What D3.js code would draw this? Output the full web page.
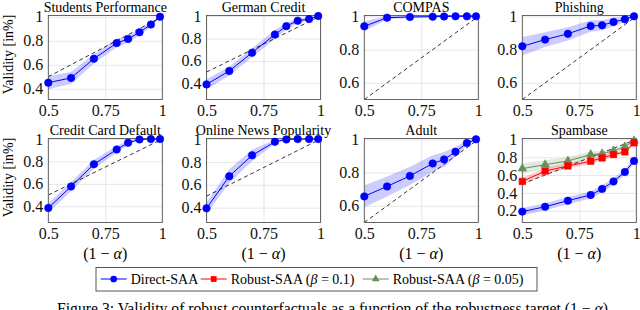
<!DOCTYPE html>
<html>
<head>
<meta charset="utf-8">
<script src="https://cdn.jsdelivr.net/npm/d3@7"></script>
<style>
  body { margin: 0; background: #fff; }
  svg { display: block; font-family: "Liberation Serif", "DejaVu Serif", serif; }
</style>
</head>
<body>
<script>
// robustness target (1 - alpha)
const alphaLevels = [0.5, 0.6, 0.7, 0.8, 0.85, 0.9, 0.95, 0.99];
const xTicks = [0.5, 0.75, 1];

const panelTitles = ["Students Performance", "German Credit", "COMPAS", "Phishing",
  "Credit Card Default", "Online News Popularity", "Adult", "Spambase"];

// Direct-SAA mean validity and half-width of the shaded band
const students = [0.45, 0.49, 0.65, 0.78, 0.815, 0.87, 0.935, 1.0];
const studentsBand = [0.055, 0.05, 0.04, 0.035, 0.03, 0.025, 0.02, 0.005];
const german = [0.39, 0.51, 0.673, 0.835, 0.91, 0.958, 0.973, 1.0];
const germanBand = [0.045, 0.04, 0.04, 0.04, 0.03, 0.02, 0.015, 0.005];
const compas = [0.94, 0.992, 0.996, 0.998, 0.999, 1.0, 1.0, 1.0];
const compasBand = [0.03, 0.01, 0.006, 0.004, 0.003, 0.002, 0.002, 0.001];
const phishing = [0.82, 0.86, 0.895, 0.942, 0.946, 0.966, 0.982, 1.0];
const phishingBand = [0.055, 0.045, 0.04, 0.035, 0.03, 0.025, 0.015, 0.005];
const creditCard = [0.385, 0.577, 0.775, 0.907, 0.967, 0.997, 1.0, 1.0];
const creditCardBand = [0.045, 0.04, 0.04, 0.03, 0.02, 0.01, 0.005, 0.003];
const onlineNews = [0.394, 0.675, 0.858, 0.976, 0.997, 1.0, 1.0, 1.0];
const onlineNewsBand = [0.05, 0.06, 0.05, 0.015, 0.005, 0.003, 0.002, 0.001];
const adult = [0.657, 0.717, 0.78, 0.855, 0.879, 0.925, 0.978, 1.0];
const adultBand = [0.065, 0.06, 0.055, 0.05, 0.045, 0.03, 0.015, 0.005];
const spambase = [0.19, 0.245, 0.313, 0.377, 0.445, 0.528, 0.634, 0.758];
const spambaseBand = [0.04, 0.04, 0.04, 0.04, 0.04, 0.035, 0.03, 0.03];

// Robust-SAA, only reported for Spambase
const spambaseRobust10 = [0.528, 0.645, 0.702, 0.755, 0.792, 0.83, 0.86, 0.962];
const spambaseRobust10Band = [0.04, 0.035, 0.03, 0.03, 0.03, 0.025, 0.025, 0.02];
const spambaseRobust05 = [0.672, 0.717, 0.758, 0.83, 0.84, 0.872, 0.917, 0.985];
const spambaseRobust05Band = [0.06, 0.05, 0.045, 0.035, 0.03, 0.025, 0.02, 0.01];

const yTicksWide = [0.4, 0.6, 0.8, 1];
const yTicksHigh = [0.6, 0.8, 1];
const yTicksSpam = [0.2, 0.4, 0.6, 0.8, 1];

const seriesStyle = {
  direct: { name: "Direct-SAA", color: "#0000ff", symbol: d3.symbolCircle, size: 44 },
  robust10: { name: "Robust-SAA", beta: "0.1", color: "#ff0000", symbol: d3.symbolSquare, size: 42 },
  robust05: { name: "Robust-SAA", beta: "0.05", color: "#6b8f5b", symbol: d3.symbolTriangle, size: 32 }
};

const panels = [
  { title: panelTitles[0], yDomain: [0.31, 1.01], yTicks: yTicksWide, series: [["direct", students, studentsBand]] },
  { title: panelTitles[1], yDomain: [0.255, 1.005], yTicks: yTicksWide, series: [["direct", german, germanBand]] },
  { title: panelTitles[2], yDomain: [0.5, 1.005], yTicks: yTicksHigh, series: [["direct", compas, compasBand]] },
  { title: panelTitles[3], yDomain: [0.5, 1.005], yTicks: yTicksHigh, series: [["direct", phishing, phishingBand]] },
  { title: panelTitles[4], yDomain: [0.255, 1.005], yTicks: yTicksWide, series: [["direct", creditCard, creditCardBand]] },
  { title: panelTitles[5], yDomain: [0.27, 1.005], yTicks: yTicksWide, series: [["direct", onlineNews, onlineNewsBand]] },
  { title: panelTitles[6], yDomain: [0.5, 1.005], yTicks: yTicksHigh, series: [["direct", adult, adultBand]] },
  { title: panelTitles[7], yDomain: [0.068, 1.01], yTicks: yTicksSpam, series: [
      ["robust05", spambaseRobust05, spambaseRobust05Band],
      ["robust10", spambaseRobust10, spambaseRobust10Band],
      ["direct", spambase, spambaseBand]] }
];

const colLeft = [48.3, 206.5, 364.3, 522.3];
const plotW = 114;
const rowTop = [15.5, 138.5];
const plotH = 84;

const svg = d3.select("body").append("svg")
  .attr("width", 640)
  .attr("height", 310);

const fmt = d => String(d);

panels.forEach((p, i) => {
  const col = i % 4, row = Math.floor(i / 4);
  const left = colLeft[col], top = rowTop[row];

  const x = d3.scaleLinear().domain([0.5, 1]).range([left, left + plotW]);
  const y = d3.scaleLinear().domain(p.yDomain).range([top + plotH, top]);

  const g = svg.append("g");

  // grid + tick labels
  const yAxis = g.append("g")
    .attr("transform", `translate(${left},0)`)
    .call(d3.axisLeft(y).tickValues(p.yTicks).tickFormat(fmt).tickSize(-plotW).tickPadding(5));
  const xAxis = g.append("g")
    .attr("transform", `translate(0,${top + plotH})`)
    .call(d3.axisBottom(x).tickValues(xTicks).tickFormat(fmt).tickSize(-plotH).tickPadding(5));
  [yAxis, xAxis].forEach(a => {
    a.select(".domain").remove();
    a.selectAll("line").attr("stroke", "#dcdcdc").attr("stroke-width", 0.7);
    a.selectAll("text").attr("fill", "#111").style("font-size", "16px")
      .style("font-family", "'Liberation Serif', serif");
  });

  const clipId = "clip" + i;
  svg.append("clipPath").attr("id", clipId)
    .append("rect").attr("x", left).attr("y", top).attr("width", plotW).attr("height", plotH);

  const inner = g.append("g").attr("clip-path", `url(#${clipId})`);

  p.series.forEach(([key, mean, band]) => {
    const st = seriesStyle[key];
    const pts = alphaLevels.map((a, k) => ({ a, m: mean[k], s: band[k] }));
    inner.append("path")
      .datum(pts)
      .attr("fill", st.color)
      .attr("fill-opacity", 0.2)
      .attr("d", d3.area().x(d => x(d.a)).y0(d => y(d.m - d.s)).y1(d => y(d.m + d.s)));
  });

  // reference diagonal
  inner.append("line")
    .attr("x1", x(0.5)).attr("y1", y(0.5))
    .attr("x2", x(1)).attr("y2", y(1))
    .attr("stroke", "#000")
    .attr("stroke-width", 0.8)
    .attr("stroke-dasharray", "4,3");

  p.series.forEach(([key, mean]) => {
    const st = seriesStyle[key];
    inner.append("path")
      .datum(alphaLevels.map((a, k) => [a, mean[k]]))
      .attr("fill", "none")
      .attr("stroke", st.color)
      .attr("stroke-width", 1)
      .attr("d", d3.line().x(d => x(d[0])).y(d => y(d[1])));
  });

  g.append("rect")
    .attr("x", left).attr("y", top)
    .attr("width", plotW).attr("height", plotH)
    .attr("fill", "none")
    .attr("stroke", "#555")
    .attr("stroke-width", 0.9);

  p.series.forEach(([key, mean]) => {
    const st = seriesStyle[key];
    g.selectAll(null)
      .data(alphaLevels.map((a, k) => [a, mean[k]]))
      .enter().append("path")
      .attr("transform", d => `translate(${x(d[0])},${y(d[1])})`)
      .attr("d", d3.symbol().type(st.symbol).size(st.size))
      .attr("fill", st.color)
      .attr("stroke", st.color)
      .attr("stroke-width", 0.6);
  });

  g.append("text")
    .attr("x", left + plotW / 2)
    .attr("y", top - 3.5)
    .attr("text-anchor", "middle")
    .style("font-size", "14px")
    .text(p.title);

  if (row === 1) {
    const lab = g.append("text")
      .attr("x", left + plotW / 2)
      .attr("y", 258.5)
      .attr("text-anchor", "middle")
      .style("font-size", "16px");
    lab.append("tspan").text("(1 \u2212 ");
    lab.append("tspan").style("font-style", "italic").text("\u03B1");
    lab.append("tspan").text(")");
  }

  if (col === 0) {
    g.append("text")
      .attr("transform", `translate(12.5,${top + plotH / 2 - 3}) rotate(-90)`)
      .attr("text-anchor", "middle")
      .style("font-size", "14px")
      .text("Validity [in%]");
  }
});

// legend
const legend = svg.append("g");
legend.append("rect")
  .attr("x", 96).attr("y", 267.5)
  .attr("width", 441).attr("height", 23.5)
  .attr("fill", "#fff")
  .attr("stroke", "#444")
  .attr("stroke-width", 0.9);

const legendX = [100.7, 200.7, 362.7];
const ly = 279;
["direct", "robust10", "robust05"].forEach((key, k) => {
  const st = seriesStyle[key];
  const cx = legendX[k];
  legend.append("line")
    .attr("x1", cx).attr("x2", cx + 26)
    .attr("y1", ly).attr("y2", ly)
    .attr("stroke", st.color).attr("stroke-width", 1);
  legend.append("path")
    .attr("transform", `translate(${cx + 13},${ly})`)
    .attr("d", d3.symbol().type(st.symbol).size(st.size * 0.8))
    .attr("fill", st.color);
  const t = legend.append("text")
    .attr("x", cx + 30)
    .attr("y", ly + 4.7)
    .style("font-size", "14px");
  t.append("tspan").text(st.name);
  if (st.beta) {
    t.append("tspan").text(" (");
    t.append("tspan").style("font-style", "italic").text("\u03B2");
    t.append("tspan").text(" = " + st.beta + ")");
  }
});

// caption (cut by the frame)
const cap = svg.append("text")
  .attr("x", 57)
  .attr("y", 314)
  .style("font-size", "15.7px");
cap.append("tspan").text("Figure 3: Validity of robust counterfactuals as a function of the robustness target (1 \u2212 ");
cap.append("tspan").style("font-style", "italic").text("\u03B1");
cap.append("tspan").text(").");
</script>
</body>
</html>
